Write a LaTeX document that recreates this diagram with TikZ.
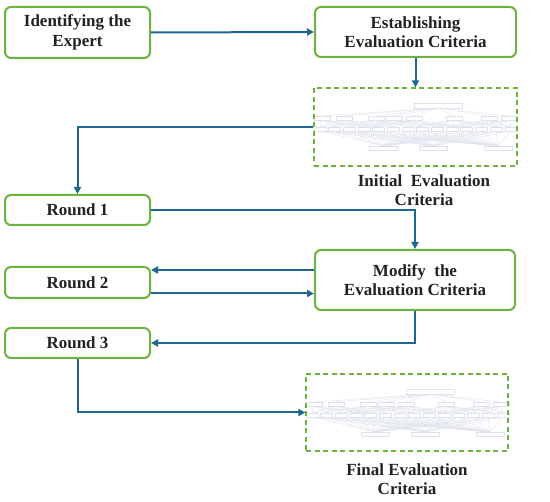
\documentclass[tikz,border=0pt]{standalone}
\usepackage{fontspec}
\setmainfont{Liberation Serif}
\usetikzlibrary{arrows.meta,calc}
\definecolor{boxgreen}{HTML}{6CB33F}
\definecolor{arrblue}{HTML}{1F6790}
\definecolor{txt}{HTML}{222222}
\definecolor{faint}{HTML}{DDE1EC}
\tikzset{
  stepbox/.style={draw=boxgreen, line width=2pt, rounded corners=6pt, fill=white,
    text=txt, font=\bfseries\fontsize{17}{19.5}\selectfont, align=center, inner sep=0pt},
  imgbox/.style={draw=boxgreen, line width=1.2pt, dash pattern=on 5pt off 3.5pt, inner sep=0pt},
  lab/.style={text=txt, font=\bfseries\fontsize{17}{19.5}\selectfont, align=center},
  arr/.style={draw=arrblue, line width=2pt, -{Triangle[length=7pt,width=7pt]}},
  tree/.pic={
    \begin{scope}[faint, line width=0.35pt]
      \foreach \a in {8,30,62,80,100,140,175,195}{\draw (124,20) -- (\a,28);}
      \foreach \a in {8,30,62,80,100,140,175,195}{
        \foreach \b in {6,20,35,50,64,79,94,108,123,138,152,167,182,197}{
          \pgfmathparse{abs(\a-\b)<60?1:0}
          \ifnum\pgfmathresult=1 \draw (\a,32) -- (\b,39);\fi}}
      \foreach \b in {6,20,35,50,64,79,94,108,123,138,152,167,182,197}{
        \foreach \c in {69,119,184}{\draw (\b,43) -- (\c,58);}}
      \draw[fill=white] (100,15.5) rectangle (148,20.5);
      \foreach \a in {8,30,62,80,100,140,175,195}{\draw[fill=white] (\a-8,28) rectangle (\a+8,32);}
      \foreach \b in {6,20,35,50,64,79,94,108,123,138,152,167,182,197}{\draw[fill=white] (\b-6,39) rectangle (\b+6,43);}
      \foreach \c in {69,119,184}{\draw[fill=white] (\c-14,58) rectangle (\c+14,62);}
    \end{scope}
  }
}
\begin{document}
\begin{tikzpicture}[x=1pt,y=-1pt]
\useasboundingbox[fill=white] (0,0) rectangle (550,502);
% nodes
\node[stepbox, minimum width=145pt, minimum height=51pt] (id) at (77.5,32.5) {Identifying the\\Expert};
\node[stepbox, minimum width=201pt, minimum height=50pt] (est) at (415.5,32) {Establishing\\Evaluation Criteria};
\pic at (314,88) {tree};
\node[imgbox, minimum width=203pt, minimum height=78pt] (d1) at (415.5,127) {};
\node[lab] (lab1) at (424,190) {Initial\ \ Evaluation\\Criteria};
\node[stepbox, minimum width=145pt, minimum height=30pt] (r1) at (77.5,210) {Round 1};
\node[stepbox, minimum width=200pt, minimum height=60pt] (mod) at (415,280) {Modify\ \ the\\Evaluation Criteria};
\node[stepbox, minimum width=145pt, minimum height=31pt] (r2) at (77.5,282.5) {Round 2};
\node[stepbox, minimum width=145pt, minimum height=30pt] (r3) at (77.5,343) {Round 3};
\pic at (306,374) {tree};
\node[imgbox, minimum width=202pt, minimum height=77pt] (d2) at (407,412.5) {};
\node[lab] (lab2) at (407,479) {Final Evaluation\\Criteria};
% connectors
\draw[arr] (id.east) -- (est.west);
\draw[arr] (est.south) -- (est.south |- d1.north);
\draw[arr] (d1.west) -| (r1.north);
\draw[arr] (r1.east) -| (mod.north);
\draw[arr] ([yshift=10pt]mod.west) -- ([yshift=10pt]mod.west -| r2.east);
\draw[arr] ([yshift=-11pt]r2.east) -- ([yshift=-11pt]r2.east -| mod.west);
\draw[arr] (mod.south) |- (r3.east);
\draw[arr] (r3.south) |- (d2.west);
\end{tikzpicture}
\end{document}
